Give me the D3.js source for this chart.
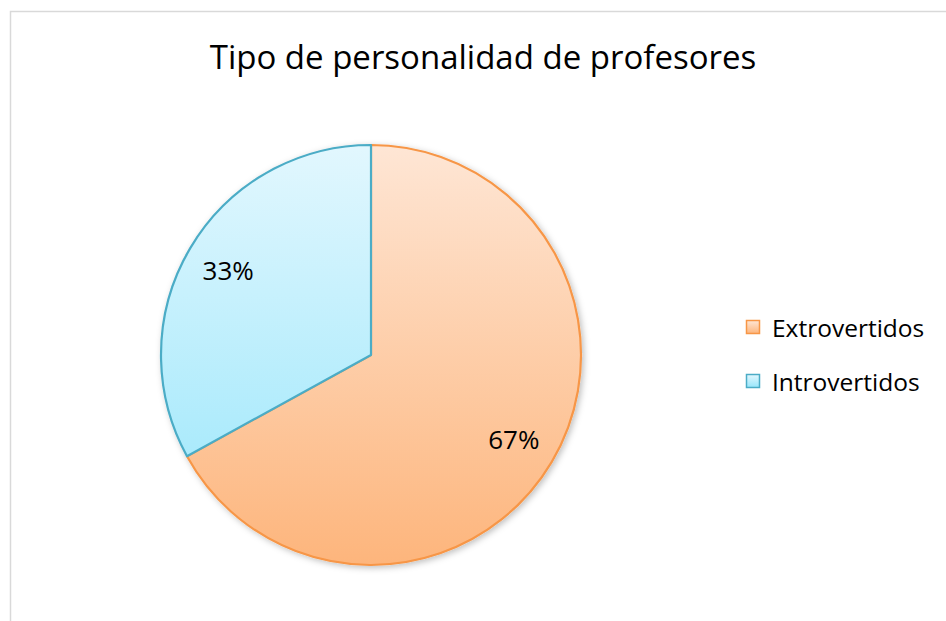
<!DOCTYPE html>
<html>
<head>
<meta charset="utf-8">
<script src="https://cdn.jsdelivr.net/npm/d3@7"></script>
<style>
  body { margin: 0; background: #fff; }
  svg { display: block; font-family: "Open Sans", "Noto Sans", sans-serif; }
</style>
</head>
<body>
<div id="chart"></div>
<script>
// datos del grafico
var categorias = ["Extrovertidos", "Introvertidos"];
var valores = [67, 33];
var etiquetas = ["67%", "33%"];
var titulo = "Tipo de personalidad de profesores";

var width = 946, height = 621;
var cx = 371, cy = 355, radio = 210;

var colores = {
  "Extrovertidos": { top: "#fee6d5", bottom: "#fdb57c", line: "#f79646" },
  "Introvertidos": { top: "#e2f7fe", bottom: "#97e6fb", line: "#4bacc6" }
};

var svg = d3.select("#chart").append("svg")
    .attr("width", width)
    .attr("height", height);

var defs = svg.append("defs");

// degradados verticales (coordenadas locales del grupo del pastel)
categorias.forEach(function(c, i) {
  var g = defs.append("linearGradient")
      .attr("id", "grad" + i)
      .attr("gradientUnits", "userSpaceOnUse")
      .attr("x1", 0).attr("y1", -radio)
      .attr("x2", 0).attr("y2", radio);
  g.append("stop").attr("offset", "0%").attr("stop-color", colores[c].top);
  g.append("stop").attr("offset", "100%").attr("stop-color", colores[c].bottom);

  // degradado para el cuadrito de la leyenda
  var gl = defs.append("linearGradient")
      .attr("id", "gradLey" + i)
      .attr("x1", 0).attr("y1", 0).attr("x2", 0).attr("y2", 1);
  gl.append("stop").attr("offset", "0%").attr("stop-color", colores[c].top);
  gl.append("stop").attr("offset", "100%").attr("stop-color", colores[c].bottom);
});

var sombra = defs.append("filter").attr("id", "sombra")
    .attr("x", "-10%").attr("y", "-10%").attr("width", "120%").attr("height", "120%");
sombra.append("feDropShadow")
    .attr("dx", 2).attr("dy", 2).attr("stdDeviation", 3)
    .attr("flood-color", "#000").attr("flood-opacity", 0.25);

// marco del area del grafico
svg.append("rect")
    .attr("x", 10.5).attr("y", 11.5)
    .attr("width", 960).attr("height", 640)
    .attr("fill", "none")
    .attr("stroke", "#d9d9d9")
    .attr("stroke-width", 1.5);

svg.append("text")
    .attr("x", 483).attr("y", 69)
    .attr("text-anchor", "middle")
    .attr("font-size", 33)
    .attr("fill", "#000")
    .text(titulo);

var pie = d3.pie().sort(null).value(function(d) { return d; });
var arc = d3.arc().innerRadius(0).outerRadius(radio);
var arcEtiqueta = d3.arc().innerRadius(radio * 0.79).outerRadius(radio * 0.79);

var gPie = svg.append("g")
    .attr("transform", "translate(" + cx + "," + cy + ")");

var arcos = pie(valores);

gPie.append("g").attr("filter", "url(#sombra)")
  .selectAll("path")
  .data(arcos)
  .enter()
  .append("path")
    .attr("d", arc)
    .attr("fill", function(d, i) { return "url(#grad" + i + ")"; })
    .attr("stroke", function(d, i) { return colores[categorias[i]].line; })
    .attr("stroke-width", 2.2)
    .attr("stroke-linejoin", "round");

gPie.selectAll("text.etq")
    .data(arcos)
    .enter()
    .append("text")
    .attr("class", "etq")
    .attr("transform", function(d) {
      var p = arcEtiqueta.centroid(d);
      return "translate(" + p[0] + "," + p[1] + ")";
    })
    .attr("text-anchor", "middle")
    .attr("dy", "0.35em")
    .attr("font-size", 26)
    .text(function(d, i) { return etiquetas[i]; });

// leyenda
var leyenda = svg.append("g").attr("transform", "translate(746,320)");
var item = leyenda.selectAll("g")
    .data(categorias)
    .enter()
    .append("g")
    .attr("transform", function(d, i) { return "translate(0," + (i * 54) + ")"; });

item.append("rect")
    .attr("x", 0.5).attr("y", 0.5)
    .attr("width", 13).attr("height", 13)
    .attr("fill", function(d, i) { return "url(#gradLey" + i + ")"; })
    .attr("stroke", function(d) { return colores[d].line; })
    .attr("stroke-width", 1.5);

item.append("text")
    .attr("x", 26).attr("y", 8)
    .attr("dy", "0.35em")
    .attr("font-size", 24.5)
    .text(function(d) { return d; });
</script>
</body>
</html>
